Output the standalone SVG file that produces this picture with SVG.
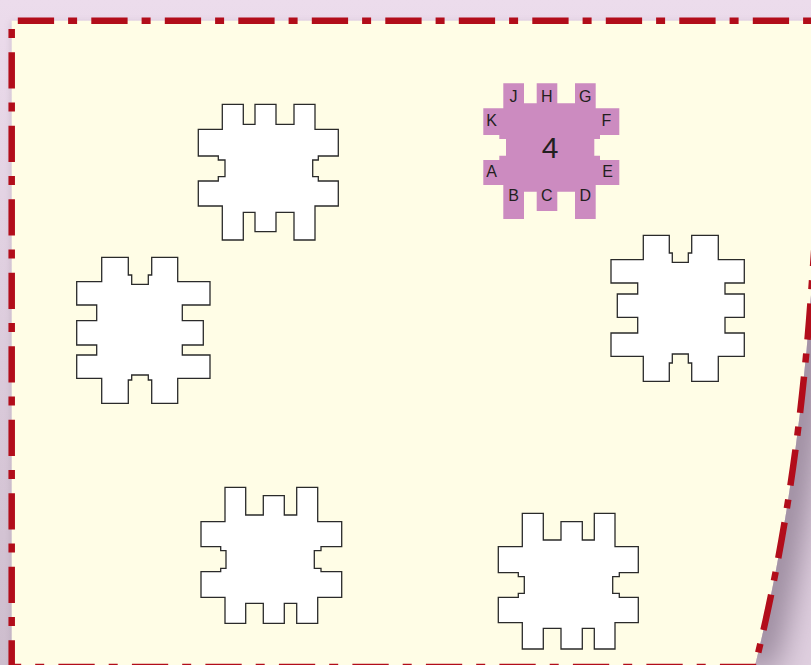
<svg xmlns="http://www.w3.org/2000/svg" width="811" height="665" viewBox="0 0 811 665">
<style>
.piece{fill:#ffffff;stroke:#2a2a2a;stroke-width:1.3;stroke-linejoin:miter}
.purple{fill:#cc8bc0;stroke:none}
.lbl{font-family:"Liberation Sans",Arial,sans-serif;font-size:16px;fill:#231f20;text-anchor:middle}
.num{font-family:"Liberation Sans",Arial,sans-serif;font-size:30px;fill:#231f20;text-anchor:middle}
.dash{fill:none;stroke:#b20d1a;stroke-width:6.5;stroke-dasharray:36.3 14 9 14.2;stroke-linecap:butt}
</style>
<defs>
<linearGradient id="bg" x1="0" y1="0" x2="0" y2="1">
<stop offset="0" stop-color="#ecdcec"/>
<stop offset="1" stop-color="#cdbdcd"/>
</linearGradient>
<filter id="soft" x="-20%" y="-20%" width="140%" height="140%"><feGaussianBlur stdDeviation="3"/></filter>
<filter id="blur" x="-50%" y="-50%" width="200%" height="200%"><feGaussianBlur stdDeviation="18"/></filter>
<clipPath id="shc"><path d="M814.2,240 L811,295 Q796.7,499.2 754,670 L830,670 L830,240 Z"/></clipPath>
</defs>
<rect id="background" x="0" y="0" width="811" height="665" fill="url(#bg)"/>
<path id="paper-shadow" d="M11.7,20.7 H830 V250 L811,295 Q796.7,499.2 754,670 H11.7 Z" fill="#8a7a8c" opacity="0.25" filter="url(#soft)" transform="translate(-1,1)"/>
<path id="paper" d="M11.7,20.7 H830 V250 L814.2,250 L811,295 Q796.7,499.2 754,670 H11.7 Z" fill="#fffde6"/>
<g id="curl-shadow" clip-path="url(#shc)">
<rect x="740" y="230" width="90" height="450" fill="#e0d0e0"/>
<path d="M814.2,240 L811,295 Q796.7,499.2 754,670" fill="none" stroke="#857589" stroke-width="34" filter="url(#blur)"/>
</g>
<g id="border">
<path class="dash" d="M11.7,20.7 V667 H760" stroke-dashoffset="42"/>
<path class="dash" d="M11.7,20.7 H830" stroke-dashoffset="67.4"/>
<path class="dash" d="M814.2,250 L811,295 Q796.7,499.2 754,670" stroke-dashoffset="20"/>
</g>
<g id="piece-1">
<path class="piece" d="M222.3,104.3 H243.3 V124.3 H255 V104.3 H276 V124.3 H294 V104.3 H315 V129.3 H338.3 V156 H318.3 V160 H312.7 V176.7 H318.3 V181 H338.3 V206 H315 V240 H294 V212.3 H276 V231.7 H255 V212.3 H243.3 V240 H222.3 V206 H198.3 V181 H218.3 V176.7 H225 V160 H218.3 V156 H198.3 V129.3 H222.3 Z"/>
</g>
<g id="piece-2">
<path class="piece" d="M101.7,257.3 H128.3 V275 H131.7 V284.3 H148.3 V275 H151.7 V257.3 H177.7 V281.7 H210 V305 H182.3 V320.7 H203.3 V345 H182.3 V355 H210 V378.3 H177.7 V403.3 H151.7 V380 H148.3 V375 H131.7 V380 H128.3 V403.3 H101.7 V378.3 H76.7 V355 H96.7 V345 H76.7 V320.7 H96.7 V305 H76.7 V281.7 H101.7 Z"/>
</g>
<g id="piece-3">
<path class="piece" d="M643.3,235.3 H669.3 V253 H672.3 V262.3 H688.3 V253 H691.7 V235.3 H718.3 V259.7 H744.3 V283 H725 V294 H744.3 V317.3 H725 V333 H744.3 V356.3 H718.3 V381.3 H691.7 V363 H688.3 V354 H672.3 V363 H669.3 V381.3 H643.3 V356.3 H611 V333 H637.7 V317.3 H617.3 V294 H637.7 V283 H611 V259.7 H643.3 Z"/>
</g>
<g id="piece-4">
<path class="piece" d="M225,487.3 H245.7 V515 H263.3 V495.7 H284.3 V515 H296.7 V487.3 H317.7 V521.7 H341.7 V546.7 H321 V550.7 H314.3 V568.3 H321 V571.7 H341.7 V597.3 H317.7 V623.3 H296.7 V603.3 H284.3 V623.3 H263.3 V603.3 H245.7 V623.3 H225 V597.3 H201 V571.7 H220.7 V568.3 H226 V550.7 H220.7 V546.7 H201 V521.7 H225 Z"/>
</g>
<g id="piece-5">
<path class="piece" d="M522.3,513.3 H543.3 V540 H561 V521.7 H582.3 V540 H594.3 V513.3 H615 V546.7 H638.3 V572.7 H619.3 V576.7 H612.7 V593.3 H619.3 V597.3 H638.3 V622.7 H615 V649 H594.3 V628.3 H582.3 V649 H561 V628.3 H543.3 V649 H522.3 V622.7 H498.3 V597.3 H518.3 V593.3 H524.3 V576.7 H518.3 V572.7 H498.3 V546.7 H522.3 Z"/>
</g>
<g id="piece-4-purple">
<path class="purple" d="M503.3,83.3 H524 V103.3 H536.7 V83.3 H557.3 V103.3 H575 V83.3 H595.7 V108.3 H619.3 V135 H600 V139 H594.3 V155.7 H600 V160 H619.3 V185 H595.7 V219 H575 V191.7 H557.3 V211 H536.7 V191.7 H524 V219 H503.3 V185 H483.3 V160 H499.3 V155.7 H506 V139 H499.3 V135 H483.3 V108.3 H503.3 Z"/>
<text class="lbl" x="513.5" y="101.7">J</text>
<text class="lbl" x="546.8" y="101.7">H</text>
<text class="lbl" x="585.2" y="101.7">G</text>
<text class="lbl" x="491.5" y="126">K</text>
<text class="lbl" x="606.5" y="126">F</text>
<text class="num" x="550" y="158.3">4</text>
<text class="lbl" x="491.5" y="176.7">A</text>
<text class="lbl" x="607.5" y="176.7">E</text>
<text class="lbl" x="513.5" y="201">B</text>
<text class="lbl" x="546.8" y="201">C</text>
<text class="lbl" x="585.2" y="201">D</text>
</g>
</svg>
